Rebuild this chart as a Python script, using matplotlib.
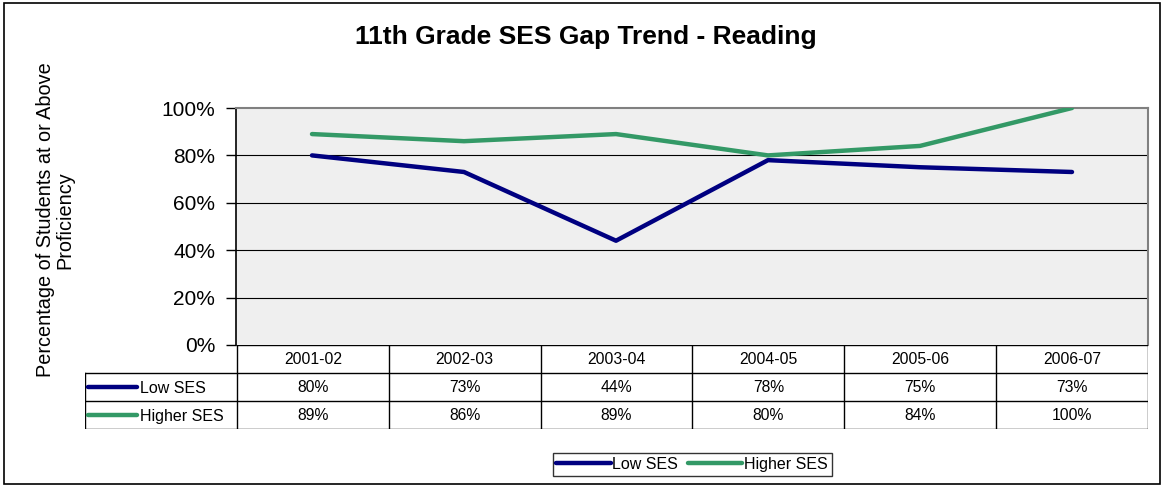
import matplotlib
matplotlib.use("Agg")
import matplotlib.pyplot as plt
from matplotlib.lines import Line2D
from matplotlib.patches import Rectangle

plt.rcParams['font.family'] = ['Liberation Sans', 'DejaVu Sans']

# data
years = ['2001-02', '2002-03', '2003-04', '2004-05', '2005-06', '2006-07']
low_ses = [80, 73, 44, 78, 75, 73]
higher_ses = [89, 86, 89, 80, 84, 100]
series_names = ['Low SES', 'Higher SES']
series_colors = ['#000080', '#339966']

W, H = 1165, 487


def px_rect(x0, y0, x1, y1):
    # pixel box (top-left origin) -> figure fraction [left, bottom, width, height]
    return [x0 / W, 1 - y1 / H, (x1 - x0) / W, (y1 - y0) / H]


fig = plt.figure(figsize=(W / 100, H / 100), dpi=100)

# outer frame
fig.patches.append(Rectangle((4 / W, 1 - 484 / H), 1156 / W, 481 / H,
                             transform=fig.transFigure, fill=False,
                             edgecolor='black', lw=1.2))

# main plot
ax = fig.add_axes(px_rect(236, 108, 1148, 345))
ax.set_facecolor('#efefef')
x = list(range(len(years)))
for vals, col in zip([low_ses, higher_ses], series_colors):
    ax.plot(x, vals, color=col, lw=3.2, solid_capstyle='round', zorder=3)
ax.set_xlim(-0.5, len(years) - 0.5)
ax.set_ylim(0, 100)
ax.set_yticks([0, 20, 40, 60, 80, 100])
ax.set_yticklabels(['0%', '20%', '40%', '60%', '80%', '100%'], fontsize=15)
ax.set_xticks([])
ax.tick_params(axis='y', direction='out', length=7, width=1, pad=8)
for yv in [20, 40, 60, 80]:
    ax.axhline(yv, color='black', lw=0.8, zorder=1)
ax.spines['left'].set_color('black')
ax.spines['left'].set_linewidth(1.2)
ax.spines['top'].set_color('#808080')
ax.spines['right'].set_color('#808080')
ax.spines['top'].set_linewidth(1.5)
ax.spines['right'].set_linewidth(1.5)
ax.spines['bottom'].set_visible(False)

# data table under the plot
tab = fig.add_axes(px_rect(85, 345, 1148, 429))
tab.set_xlim(-1.5, len(years) - 0.5)
tab.set_ylim(3, 0)
tab.axis('off')
n = len(years)
lk = dict(color='black', lw=1)
tab.plot([-0.5, n - 0.5], [0, 0], **lk)
for yy in [1, 2, 3]:
    tab.plot([-1.5, n - 0.5], [yy, yy], **lk)
tab.plot([-1.5, -1.5], [1, 3], **lk)
for i in range(n + 1):
    tab.plot([i - 0.5, i - 0.5], [0, 3], **lk)
for i, yr in enumerate(years):
    tab.text(i, 0.5, yr, ha='center', va='center', fontsize=11.3)
    tab.text(i, 1.5, f'{low_ses[i]}%', ha='center', va='center', fontsize=11.3)
    tab.text(i, 2.5, f'{higher_ses[i]}%', ha='center', va='center', fontsize=11.3)
for r, (name, col) in enumerate(zip(series_names, series_colors)):
    tab.plot([-1.48, -1.16], [r + 1.5, r + 1.5], color=col, lw=3.2,
             solid_capstyle='round')
    tab.text(-1.14, r + 1.55, name, ha='left', va='center', fontsize=11.5)

# title and y label
fig.text(586 / W, 1 - 37 / H, '11th Grade SES Gap Trend - Reading',
         ha='center', va='center', fontsize=19, fontweight='bold')
fig.text(55 / W, 1 - 220 / H, 'Percentage of Students at or Above\nProficiency',
         ha='center', va='center', rotation=90, fontsize=14.3,
         multialignment='center', linespacing=1.0)

# legend at the bottom
handles = [Line2D([], [], color=c, lw=3.2, solid_capstyle='round') for c in series_colors]
leg = fig.legend(handles, series_names, loc='center',
                 bbox_to_anchor=(692 / W, 1 - 464.5 / H), ncol=2, fontsize=11.5,
                 frameon=True, fancybox=False, edgecolor='black',
                 handlelength=3.4, handletextpad=0.1, columnspacing=0.6,
                 borderpad=0.25, borderaxespad=0)
leg.get_frame().set_linewidth(1)

fig.savefig('out.png', dpi=100)
